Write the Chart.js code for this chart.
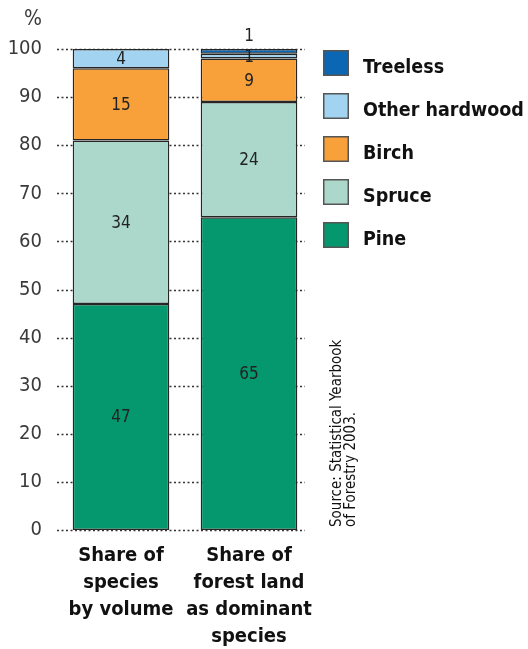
<!DOCTYPE html>
<html><head><meta charset="utf-8">
<script src="https://cdn.jsdelivr.net/npm/chart.js@4.4.0/dist/chart.umd.min.js"></script>
<style>html,body{margin:0;padding:0;background:#fff}</style>
</head><body>
<canvas id="c" width="528" height="649" style="width:528px;height:649px;display:block"></canvas>
<script>
const categories = [["Share of","species","by volume"],["Share of","forest land","as dominant","species"]];
const seriesNames = ["Pine","Spruce","Birch","Other hardwood","Treeless"];
const pine = [47, 65];
const spruce = [34, 24];
const birch = [15, 9];
const otherHardwood = [4, 1];
const treeless = [0, 1];
const yTicks = [0,10,20,30,40,50,60,70,80,90,100];
const colors = ["#05976d","#acd8cb","#f8a13b","#a2d4f1","#0b67b3"];
const yUnit = "%";
const sourceLines = ["Source: Statistical Yearbook","of Forestry 2003."];

const FONT = '"DejaVu Sans Condensed","DejaVu Sans",sans-serif';
const series = [pine, spruce, birch, otherHardwood, treeless];

const deco = {
  id: 'deco',
  beforeDatasetsDraw(chart) {
    const {ctx, chartArea, scales: {y}} = chart;
    ctx.save();
    ctx.strokeStyle = '#333';
    ctx.lineWidth = 1.3;
    ctx.setLineDash([2, 2.5]);
    yTicks.forEach(v => {
      const py = Math.round(y.getPixelForValue(v)) + 0.5;
      ctx.beginPath();
      ctx.moveTo(chartArea.left, py);
      ctx.lineTo(chartArea.right - 8, py);
      ctx.stroke();
    });
    ctx.restore();
  },
  afterDatasetsDraw(chart) {
    const {ctx} = chart;
    ctx.save();
    // value labels
    ctx.font = '17px ' + FONT;
    ctx.fillStyle = '#222';
    ctx.textAlign = 'center';
    ctx.textBaseline = 'middle';
    const n = chart.data.datasets.length;
    chart.data.datasets.forEach((ds, i) => {
      const meta = chart.getDatasetMeta(i);
      meta.data.forEach((bar, j) => {
        const v = ds.data[j];
        if (!v) return;
        let yy = (bar.y + bar.base) / 2 + 1;
        if (i === n - 1) yy = bar.y - 12;
        ctx.fillText(String(v), bar.x, yy);
      });
    });
    // legend (reverse order)
    const lx = 323, ly0 = 50, step = 43, sz = 26;
    ctx.textAlign = 'left';
    ctx.textBaseline = 'alphabetic';
    ctx.font = 'bold 19.5px ' + FONT;
    for (let k = 0; k < n; k++) {
      const i = n - 1 - k;
      const top = ly0 + k * step;
      ctx.fillStyle = colors[i];
      ctx.fillRect(lx, top, sz, sz);
      ctx.strokeStyle = '#555';
      ctx.lineWidth = 1.5;
      ctx.strokeRect(lx + 0.75, top + 0.75, sz - 1.5, sz - 1.5);
      ctx.fillStyle = '#111';
      ctx.fillText(chart.data.datasets[i].label, 363, top + 23);
    }
    // % unit
    ctx.font = '21px ' + FONT;
    ctx.fillStyle = '#3a3a3a';
    ctx.textAlign = 'center';
    ctx.fillText(yUnit, 33, 25);
    // source
    ctx.font = '15px ' + FONT;
    ctx.fillStyle = '#111';
    ctx.textAlign = 'left';
    sourceLines.forEach((t, k) => {
      ctx.save();
      ctx.translate(341 + k * 14, 527);
      ctx.rotate(-Math.PI / 2);
      ctx.fillText(t, 0, 0);
      ctx.restore();
    });
    ctx.restore();
  }
};

new Chart(document.getElementById('c'), {
  type: 'bar',
  data: {
    labels: categories,
    datasets: seriesNames.map((name, i) => ({
      label: name,
      data: series[i],
      backgroundColor: colors[i],
      borderColor: '#262626',
      borderWidth: 1.5,
      borderSkipped: false,
      barPercentage: 0.755,
      categoryPercentage: 1
    }))
  },
  options: {
    responsive: false,
    devicePixelRatio: 1,
    animation: false,
    layout: {padding: {top: 49, right: 215, bottom: 0, left: 0}},
    plugins: {legend: {display: false}, tooltip: {enabled: false}},
    scales: {
      x: {
        stacked: true,
        grid: {display: false, drawTicks: false},
        border: {display: false},
        ticks: {
          font: {family: FONT, size: 20, weight: 'bold', lineHeight: 1.35},
          color: '#111',
          padding: 12,
          maxRotation: 0,
          autoSkip: false
        },
        afterFit(s) { s.height = 119; }
      },
      y: {
        stacked: true,
        min: 0, max: 100,
        afterBuildTicks(s) { s.ticks = yTicks.map(v => ({value: v})); },
        grid: {display: false, drawTicks: false},
        border: {display: false},
        ticks: {
          font: {family: FONT, size: 20},
          color: '#3a3a3a',
          padding: 15
        },
        afterFit(s) { s.width = 57; }
      }
    }
  },
  plugins: [deco]
});
</script>
</body></html>
